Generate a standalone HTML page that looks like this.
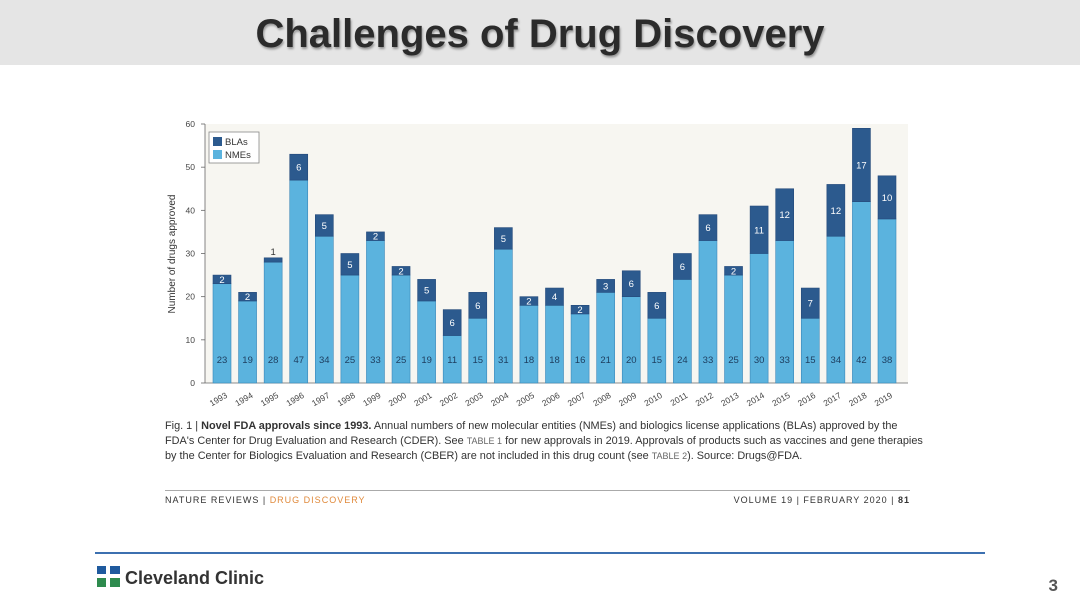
<!DOCTYPE html>
<html><head><meta charset="utf-8"><style>
body{margin:0;width:1080px;height:608px;background:#fff;position:relative;overflow:hidden;font-family:"Liberation Sans",sans-serif}
.hdr{position:absolute;left:0;top:0;width:1080px;height:65px;background:#e5e5e5}
.hdr h1{margin:0;text-align:center;font-size:40px;line-height:68px;font-weight:bold;color:#2b2b2b;letter-spacing:0;text-shadow:1px 2px 2px rgba(0,0,0,.35)}
.cap{position:absolute;left:165px;top:419px;width:760px;font-size:10.9px;line-height:15px;color:#333;white-space:nowrap;letter-spacing:0}
.foot{position:absolute;left:165px;top:490px;width:745px;border-top:1px solid #aaa;font-size:9px;letter-spacing:1px;color:#333;padding-top:4px}
</style></head><body>
<div class="hdr"><h1>Challenges of Drug Discovery</h1></div>
<svg width="1080" height="608" style="position:absolute;left:0;top:0" id="chart">
<rect x="205" y="124" width="703" height="259" fill="#f7f6f1"/>
<text transform="translate(175,254) rotate(-90)" text-anchor="middle" font-size="10" fill="#333">Number of drugs approved</text>
<g id="bars"></g>
<rect x="209" y="132" width="50" height="31" fill="#fff" stroke="#888" stroke-width="0.8"/>
<rect x="213" y="137" width="9" height="9" fill="#2c5a8e"/>
<text x="225" y="145" font-size="9.5" fill="#333">BLAs</text>
<rect x="213" y="150" width="9" height="9" fill="#5bb3de"/>
<text x="225" y="158" font-size="9.5" fill="#333">NMEs</text>
<line x1="95" y1="553" x2="985" y2="553" stroke="#3c70b0" stroke-width="2"/>
<g>
<rect x="97" y="566" width="9" height="8" fill="#1f5a9e"/><rect x="110" y="566" width="10" height="8" fill="#1f5a9e"/>
<rect x="97" y="578" width="9" height="9" fill="#2e8b4e"/><rect x="110" y="578" width="10" height="9" fill="#2e8b4e"/>
</g>
<text x="125" y="584" font-size="18" font-weight="bold" fill="#333">Cleveland Clinic</text>
<text x="1058" y="591" font-size="17" font-weight="bold" fill="#555" text-anchor="end">3</text>
</svg>
<div class="cap">Fig. 1 | <b>Novel FDA approvals since 1993.</b> Annual numbers of new molecular entities (NMEs) and biologics license applications (BLAs) approved by the<br>FDA's Center for Drug Evaluation and Research (CDER). See <span style="color:#666;font-size:9px">TABLE 1</span> for new approvals in 2019. Approvals of products such as vaccines and gene therapies<br>by the Center for Biologics Evaluation and Research (CBER) are not included in this drug count (see <span style="color:#666;font-size:9px">TABLE 2</span>). Source: Drugs@FDA.</div>
<div class="foot"><span>NATURE REVIEWS | <span style="color:#e08a3c">DRUG DISCOVERY</span></span><span style="float:right">VOLUME 19 | FEBRUARY 2020 | <b>81</b></span></div>
<script>
const years=[1993,1994,1995,1996,1997,1998,1999,2000,2001,2002,2003,2004,2005,2006,2007,2008,2009,2010,2011,2012,2013,2014,2015,2016,2017,2018,2019];
const nmes=[23,19,28,47,34,25,33,25,19,11,15,31,18,18,16,21,20,15,24,33,25,30,33,15,34,42,38];
const blas=[2,2,1,6,5,5,2,2,5,6,6,5,2,4,2,3,6,6,6,6,2,11,12,7,12,17,10];
const yTicks=[0,10,20,30,40,50,60];
const NS='http://www.w3.org/2000/svg';
const y0=383,pxPer=259/60,xc0=222,step=(887-222)/26,bw=18;
const Y=v=>y0-v*pxPer, X=i=>xc0+i*step;
const g=document.getElementById('bars');
function mk(t,a){const e=document.createElementNS(NS,t);for(const k in a)e.setAttribute(k,a[k]);g.appendChild(e);return e;}
const ax=mk('line',{x1:205,y1:124,x2:205,y2:383,stroke:'#666','stroke-width':0.8});


const bx=mk('line',{x1:205,y1:383,x2:908,y2:383,stroke:'#666','stroke-width':0.8});


yTicks.forEach(v=>{
 const t=mk('line',{x1:201,y1:Y(v),x2:205,y2:Y(v),stroke:'#666','stroke-width':0.8});
 
 
 const l=mk('text',{x:195,y:Y(v)+3,'text-anchor':'end','font-size':8.5,fill:'#444'});l.textContent=v;
 
 
});
years.forEach((yr,i)=>{
 const x=X(i)-bw/2;
 const n=mk('rect',{x:x,y:Y(nmes[i]),width:bw,height:nmes[i]*pxPer,fill:'#5bb3de',stroke:'#3a86b8','stroke-width':0.6});
 
 
 const b=mk('rect',{x:x,y:Y(nmes[i]+blas[i]),width:bw,height:blas[i]*pxPer,fill:'#2c5a8e',stroke:'#24497a','stroke-width':0.6});
 
 
 const nl=mk('text',{x:X(i),y:y0-20,'text-anchor':'middle','font-size':9.5,fill:'#1d3d5e'});nl.textContent=nmes[i];
 
 
 const bl=mk('text',{x:X(i),'text-anchor':'middle','font-size':9.5});
 if(blas[i]>=2){bl.setAttribute('y',Y(nmes[i]+blas[i]/2)+3.5);bl.setAttribute('fill','#fff');}
 else{bl.setAttribute('y',Y(nmes[i]+blas[i])-3);bl.setAttribute('fill','#333');}
 bl.textContent=blas[i];
 
 
 const xl=mk('text',{transform:`translate(${X(i)+6},${y0+14}) rotate(-30)`,'text-anchor':'end','font-size':8.5,fill:'#444'});xl.textContent=yr;
 
 
});
</script>
</body></html>
